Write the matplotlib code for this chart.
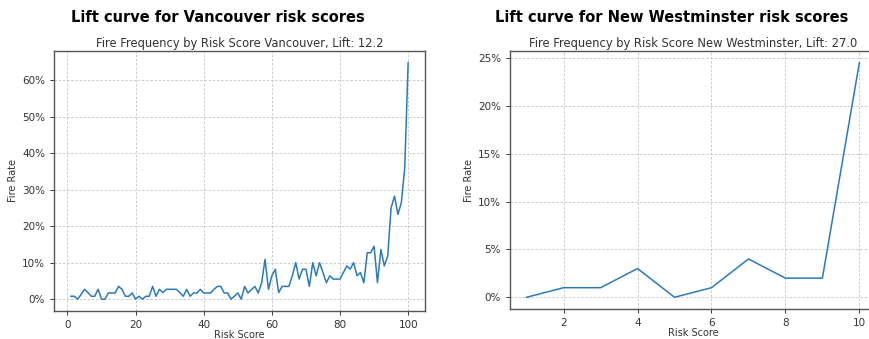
import matplotlib.pyplot as plt
from matplotlib.ticker import PercentFormatter

# fire rate (%) per risk score, Vancouver (scores 1..100)
van_scores = list(range(1, 101))
van_rate = [0.8, 0.8, 0.0, 1.3, 2.7, 1.8, 0.8, 0.8, 2.7, 0.0,
            0.0, 1.7, 1.7, 1.7, 3.5, 2.7, 0.8, 0.8, 1.7, 0.0,
            0.8, 0.0, 0.8, 0.8, 3.5, 0.8, 2.7, 1.8, 2.7, 2.7,
            2.7, 2.7, 1.8, 0.8, 2.7, 0.8, 1.7, 1.7, 2.7, 1.7,
            1.7, 1.7, 2.7, 3.5, 3.5, 1.7, 1.7, 0.0, 0.8, 1.7,
            0.0, 3.5, 1.7, 2.6, 3.5, 1.7, 4.5, 10.9, 2.7, 6.4,
            8.2, 1.8, 3.5, 3.5, 3.5, 6.4, 10.0, 5.5, 8.2, 8.2,
            3.5, 10.0, 6.4, 10.0, 7.3, 4.5, 6.4, 5.5, 5.5, 5.5,
            7.3, 9.1, 8.2, 10.0, 6.4, 7.3, 4.5, 12.7, 12.7, 14.5,
            4.5, 13.6, 9.1, 11.8, 25.0, 28.2, 23.2, 26.4, 35.9, 64.7]

# fire rate (%) per risk score, New Westminster (scores 1..10)
nw_scores = list(range(1, 11))
nw_rate = [0.0, 1.0, 1.0, 3.0, 0.0, 1.0, 4.0, 2.0, 2.0, 24.5]

W, H = 869, 339
fig = plt.figure(figsize=(W / 100, H / 100), dpi=100)

def px(l, r, t, b):
    # axes rect from pixel edges
    return [l / W, (H - b) / H, (r - l) / W, (b - t) / H]

ax1 = fig.add_axes(px(54, 425, 51, 311))
ax2 = fig.add_axes(px(510, 876, 51, 309))

panels = [
    (ax1, van_scores, van_rate, "Vancouver", "12.2", [0, 20, 40, 60, 80, 100]),
    (ax2, nw_scores, nw_rate, "New Westminster", "27.0", [2, 4, 6, 8, 10]),
]

for ax, xs, ys, city, lift, xt in panels:
    ax.plot(xs, ys, color="#2b7bba", lw=1.1)
    ax.set_xticks(xt)
    ax.yaxis.set_major_formatter(PercentFormatter(decimals=0))
    ax.grid(True, linestyle=(0, (3, 2)), color="#c4c4c4", lw=0.6)
    ax.set_title("Fire Frequency by Risk Score " + city + ", Lift: " + lift,
                 fontsize=8.3, color="#333333", pad=3)
    ax.set_xlabel("Risk Score", fontsize=7, color="#333333", labelpad=0)
    ax.set_ylabel("Fire Rate", fontsize=7, color="#333333", labelpad=3)
    ax.tick_params(labelsize=7.5, length=3, width=0.7, colors="#333333")
    for s in ax.spines.values():
        s.set_color("#555555")
        s.set_linewidth(1.0)

fig.text(218 / W, 1 - 18 / H, "Lift curve for Vancouver risk scores",
         ha="center", va="center", fontsize=10.5, fontweight="bold")
fig.text(672 / W, 1 - 18 / H, "Lift curve for New Westminster risk scores",
         ha="center", va="center", fontsize=10.5, fontweight="bold")

fig.savefig("out.png", dpi=100)
